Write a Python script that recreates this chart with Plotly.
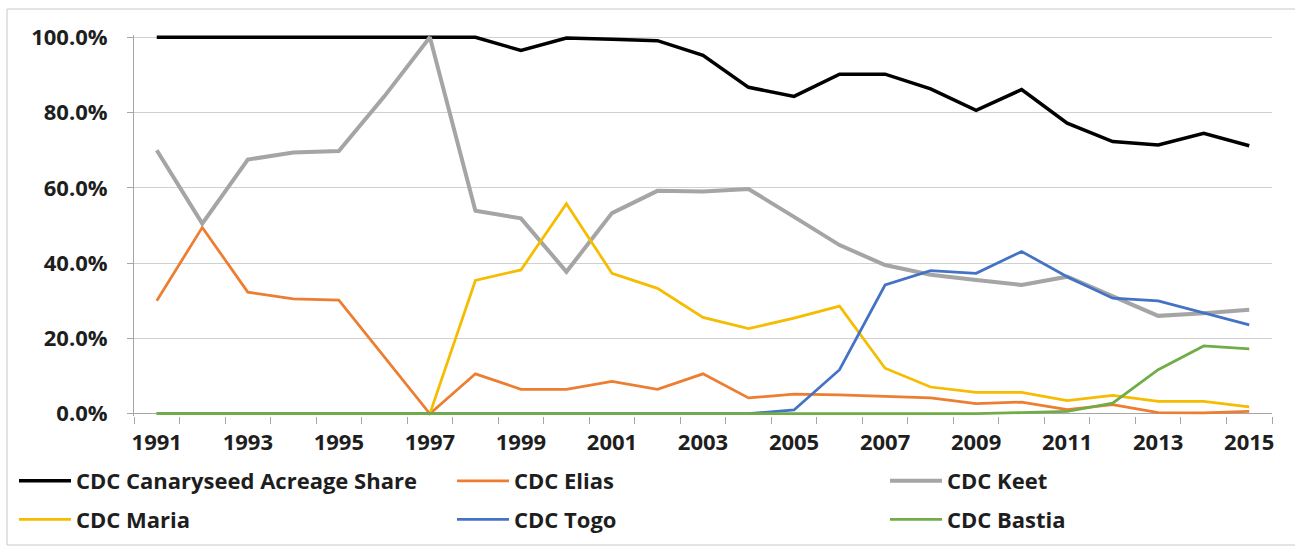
import plotly.graph_objects as go

years = [1991, 1992, 1993, 1994, 1995, 1996, 1997, 1998, 1999, 2000, 2001, 2002, 2003,
         2004, 2005, 2006, 2007, 2008, 2009, 2010, 2011, 2012, 2013, 2014, 2015]

canaryseed_share = [100, 100, 100, 100, 100, 100, 100, 100, 96.5, 99.8, 99.5, 99.1, 95.2,
                    86.7, 84.3, 90.2, 90.2, 86.3, 80.6, 86.1, 77.2, 72.3, 71.4, 74.5, 71.2]
elias = [30.0, 49.5, 32.3, 30.5, 30.2, 15.0, 0, 10.6, 6.5, 6.5, 8.6, 6.5, 10.6,
         4.2, 5.2, 5.0, 4.6, 4.2, 2.7, 3.1, 1.1, 2.4, 0.3, 0.2, 0.6]
keet = [70.0, 50.5, 67.5, 69.4, 69.8, 84.3, 100, 53.9, 51.9, 37.7, 53.3, 59.2, 59.0,
        59.7, 52.3, 44.8, 39.5, 36.9, 35.5, 34.2, 36.4, 31.1, 26.0, 26.7, 27.6]
maria = [0, 0, 0, 0, 0, 0, 0, 35.4, 38.2, 55.8, 37.3, 33.3, 25.6,
         22.6, 25.4, 28.6, 12.1, 7.1, 5.7, 5.7, 3.5, 4.9, 3.3, 3.3, 1.8]
togo = [0, 0, 0, 0, 0, 0, 0, 0, 0, 0, 0, 0, 0,
        0, 1.0, 11.7, 34.2, 38.0, 37.3, 43.1, 36.4, 30.7, 30.0, 26.7, 23.6]
bastia = [0, 0, 0, 0, 0, 0, 0, 0, 0, 0, 0, 0, 0,
          0, 0, 0, 0, 0, 0, 0.3, 0.6, 2.8, 11.7, 18.0, 17.2]

series_names = ["CDC Canaryseed Acreage Share", "CDC Elias", "CDC Keet",
                "CDC Maria", "CDC Togo", "CDC Bastia"]
series_values = [canaryseed_share, elias, keet, maria, togo, bastia]
series_colors = ["#000000", "#ED7D31", "#A5A5A5", "#F5BC00", "#4472C4", "#70AD47"]
series_widths = [3.5, 2.75, 4, 2.75, 2.75, 2.75]
series_legend = ["legend", "legend2", "legend3", "legend", "legend2", "legend3"]

y_tickvals = [0, 20, 40, 60, 80, 100]
x_tickvals = [1991, 1993, 1995, 1997, 1999, 2001, 2003, 2005, 2007, 2009, 2011, 2013, 2015]

W, H = 1295, 549
L, R, T, B = 134, 23, 35, 133
pw, ph = W - L - R, H - T - B

fig = go.Figure()
for i, (name, vals, col, wd, lg) in enumerate(zip(series_names, series_values, series_colors,
                                                  series_widths, series_legend)):
    fig.add_trace(go.Scatter(x=years, y=vals, mode="lines", name=name, legend=lg,
                             legendgroup=f"g{i}",
                             line=dict(color=col, width=wd)))

FAMILY = "Open Sans"
font_main = dict(family=FAMILY, size=22, weight="bold", color="#1e1e1e")


def legend_at(px):
    return dict(orientation="v", xref="container", yref="container",
                x=px / W, xanchor="left", y=1 - 460 / H, yanchor="top",
                itemwidth=52, tracegroupgap=7,
                font=dict(family=FAMILY, size=22, weight="bold", color="#1e1e1e"),
                bgcolor="rgba(0,0,0,0)", traceorder="grouped")


fig.update_layout(
    width=W, height=H,
    margin=dict(l=L, r=R, t=T, b=B, autoexpand=False),
    paper_bgcolor="white", plot_bgcolor="white",
    showlegend=True,
    legend=legend_at(14), legend2=legend_at(452), legend3=legend_at(885),
    xaxis=dict(range=[1990.5, 2015.5], tickvals=x_tickvals, ticktext=[str(v) for v in x_tickvals],
               ticks="", showgrid=False, showline=False, zeroline=False,
               tickfont=font_main, ticklabelstandoff=11,
               minor=dict(tick0=1990.5, dtick=1, ticks="outside", ticklen=7,
                          tickcolor="#A6A6A6", tickwidth=1, showgrid=False)),
    yaxis=dict(range=[-0.6, 100.6], tickvals=y_tickvals,
               ticktext=[f"{v:.1f}%" for v in y_tickvals],
               ticks="outside", ticklen=6, tickcolor="#A6A6A6",
               showgrid=True, gridcolor="#D0D0D0", gridwidth=1,
               showline=True, linecolor="#A6A6A6", linewidth=1,
               zeroline=True, zerolinecolor="#A6A6A6", zerolinewidth=1,
               tickfont=font_main, ticklabelstandoff=15),
    shapes=[dict(type="rect", xref="paper", yref="paper",
                 x0=(7 - L) / pw, x1=(1300 - L) / pw,
                 y0=(H - B - 545) / ph, y1=(H - B - 9) / ph,
                 line=dict(color="#C8C8C8", width=1), fillcolor="rgba(0,0,0,0)", layer="below")],
)

fig.write_html("out.html")
